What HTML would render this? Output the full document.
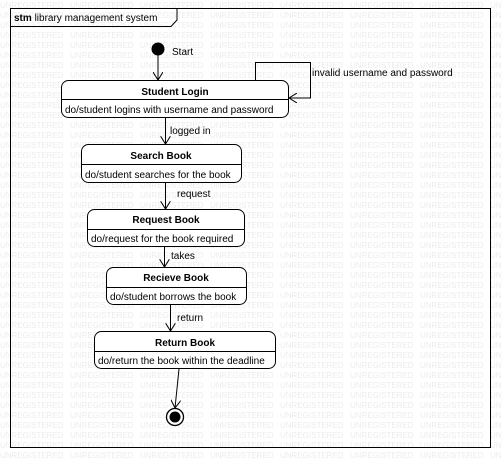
<!DOCTYPE html>
<html><head><style>
html,body{margin:0;padding:0;background:#fff}
svg{display:block}
text{font-family:"Liberation Sans",sans-serif;font-size:10px;fill:#000}
.b{font-weight:bold}
</style></head><body>
<svg width="501" height="462" viewBox="0 0 501 462" xmlns="http://www.w3.org/2000/svg">
<defs>
<pattern id="wm" width="70" height="10" patternUnits="userSpaceOnUse">
<text x="0" y="8" style="font-size:8px;fill:#ececec">UNREGISTERED</text>
</pattern>
<marker id="ar" markerWidth="10" markerHeight="10" refX="8" refY="5" orient="auto" markerUnits="userSpaceOnUse">
<path d="M0,0 L8,5 L0,10" fill="none" stroke="#000" stroke-width="1"/>
</marker>
</defs>
<rect width="501" height="462" fill="url(#wm)"/>
<rect x="10.5" y="8.5" width="480" height="439" fill="none" stroke="#000"/>
<path d="M10.5,26.5 H171 L177,20 V8.5" fill="none" stroke="#000"/>
<text x="14" y="21"><tspan class="b">stm</tspan> library management system</text>
<circle cx="158" cy="49" r="6.5" fill="#000"/>
<text x="172" y="55">Start</text>
<line x1="158" y1="55" x2="158" y2="80" stroke="#000" marker-end="url(#ar)"/>
<g fill="#fff" stroke="#000">
<rect x="61.5" y="80.5" width="227" height="37" rx="7"/>
<rect x="81.5" y="144.5" width="160" height="38" rx="7"/>
<rect x="87.5" y="209.5" width="157" height="37" rx="7"/>
<rect x="106.5" y="267.5" width="140" height="37" rx="7"/>
<rect x="94.5" y="331.5" width="181" height="37" rx="7"/>
<line x1="61.5" y1="99.5" x2="288.5" y2="99.5"/>
<line x1="81.5" y1="164.5" x2="241.5" y2="164.5"/>
<line x1="87.5" y1="229.5" x2="244.5" y2="229.5"/>
<line x1="106.5" y1="287.5" x2="246.5" y2="287.5"/>
<line x1="94.5" y1="351.5" x2="275.5" y2="351.5"/>
</g>
<text x="175" y="95" class="b" text-anchor="middle">Student Login</text>
<text x="65" y="113">do/student logins with username and password</text>
<text x="161" y="159" class="b" text-anchor="middle">Search Book</text>
<text x="85" y="178">do/student searches for the book</text>
<text x="166" y="223" class="b" text-anchor="middle">Request Book</text>
<text x="91" y="242">do/request for the book required</text>
<text x="176" y="281" class="b" text-anchor="middle">Recieve Book</text>
<text x="110" y="300">do/student borrows the book</text>
<text x="185" y="346" class="b" text-anchor="middle">Return Book</text>
<text x="98" y="364">do/return the book within the deadline</text>
<path d="M255.5,80 V62.5 H310.5 V98 H289" fill="none" stroke="#000" marker-end="url(#ar)"/>
<text x="312" y="76">invalid username and password</text>
<g stroke="#000" fill="none">
<line x1="165.5" y1="118" x2="165.5" y2="144" marker-end="url(#ar)"/>
<line x1="165.5" y1="183" x2="165.5" y2="209" marker-end="url(#ar)"/>
<line x1="164.5" y1="247" x2="164.5" y2="267" marker-end="url(#ar)"/>
<line x1="170.5" y1="305" x2="170.5" y2="331" marker-end="url(#ar)"/>
<path d="M179,369 L175,408" marker-end="url(#ar)"/>
</g>
<text x="170" y="134">logged in</text>
<text x="177" y="197">request</text>
<text x="171" y="259">takes</text>
<text x="177" y="321">return</text>
<circle cx="175" cy="417" r="8.5" fill="#fff" stroke="#000" stroke-width="1.3"/>
<circle cx="175" cy="417" r="5.5" fill="#000"/>
</svg>
</body></html>
